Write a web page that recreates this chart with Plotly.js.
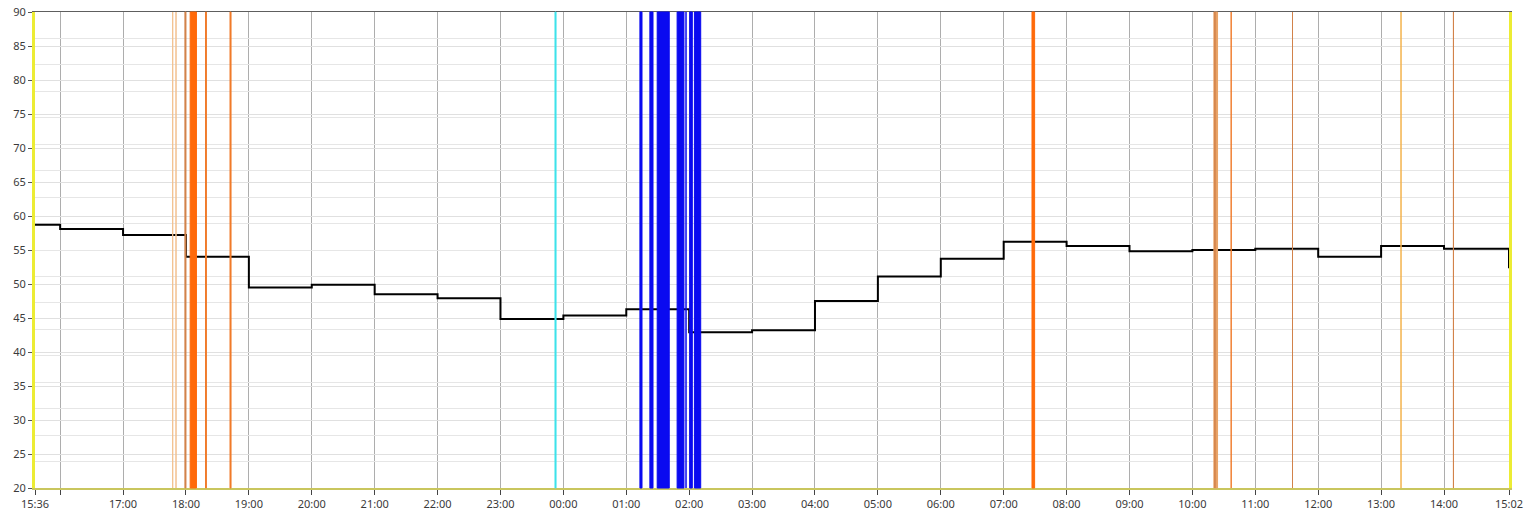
<!DOCTYPE html>
<html>
<head>
<meta charset="utf-8">
<script src="https://cdn.plot.ly/plotly-3.0.1.min.js"></script>
<style>
html,body{margin:0;padding:0;background:#ffffff;}
#chart{width:1527px;height:513px;}
</style>
</head>
<body>
<div id="chart"></div>
<script>
// ---------- data ----------
const DAY1 = '2024-03-11';
const DAY2 = '2024-03-12';

const stepTimes = [
  DAY1+' 15:36', DAY1+' 16:00', DAY1+' 17:00', DAY1+' 18:00', DAY1+' 19:00',
  DAY1+' 20:00', DAY1+' 21:00', DAY1+' 22:00', DAY1+' 23:00', DAY2+' 00:00',
  DAY2+' 01:00', DAY2+' 02:00', DAY2+' 03:00', DAY2+' 04:00', DAY2+' 05:00',
  DAY2+' 06:00', DAY2+' 07:00', DAY2+' 08:00', DAY2+' 09:00', DAY2+' 10:00',
  DAY2+' 11:00', DAY2+' 12:00', DAY2+' 13:00', DAY2+' 14:00', DAY2+' 15:02'
];
const stepValues = [
  58.7, 58.1, 57.2, 54.0, 49.5,
  49.9, 48.5, 47.9, 44.85, 45.35,
  46.3, 42.9, 43.2, 47.5, 51.1,
  53.7, 56.2, 55.6, 54.8, 55.0,
  55.2, 54.0, 55.6, 55.2, 52.3
];

const tickTimes = stepTimes;
const tickLabels = [
  '15:36', '', '17:00', '18:00', '19:00', '20:00', '21:00', '22:00', '23:00', '00:00',
  '01:00', '02:00', '03:00', '04:00', '05:00', '06:00', '07:00', '08:00', '09:00', '10:00',
  '11:00', '12:00', '13:00', '14:00', '15:02'
];

const yTickValues = [20, 25, 30, 35, 40, 45, 50, 55, 60, 65, 70, 75, 80, 85, 90];
const minorGridRange = [0, 18];

// events (vertical marks)
const eventStart = [
  DAY1+' 17:47:20', DAY1+' 17:50:30', DAY1+' 17:59:00', DAY1+' 18:04:00', DAY1+' 18:18:40',
  DAY1+' 18:42:00', DAY1+' 23:52:00',
  DAY2+' 01:13:00', DAY2+' 01:22:30', DAY2+' 01:29:30', DAY2+' 01:48:30', DAY2+' 01:57:00',
  DAY2+' 02:00:30', DAY2+' 02:05:00',
  DAY2+' 07:27:00', DAY2+' 10:20:30', DAY2+' 10:21:30', DAY2+' 10:37:00', DAY2+' 11:35:30',
  DAY2+' 13:19:00', DAY2+' 14:09:00'
];
const eventEnd = [
  DAY1+' 17:47:20', DAY1+' 17:50:30', DAY1+' 18:00:00', DAY1+' 18:10:00', DAY1+' 18:19:30',
  DAY1+' 18:43:00', DAY1+' 23:53:00',
  DAY2+' 01:15:00', DAY2+' 01:25:30', DAY2+' 01:41:00', DAY2+' 01:55:00', DAY2+' 01:57:00',
  DAY2+' 02:03:00', DAY2+' 02:11:00',
  DAY2+' 07:29:30', DAY2+' 10:24:00', DAY2+' 10:21:30', DAY2+' 10:37:00', DAY2+' 11:35:30',
  DAY2+' 13:19:00', DAY2+' 14:09:00'
];
const eventKind = [
  'note', 'note', 'minor', 'alarm', 'warning',
  'warning', 'info',
  'block', 'block', 'block', 'block', 'block',
  'block', 'block',
  'alarm', 'service', 'minor', 'warning', 'minor',
  'light', 'minor'
];

// ---------- styles ----------
const kindColor = {
  note: '#f2c08e',
  minor: '#d2824a',
  alarm: '#ff6a0a',
  warning: '#f07a2a',
  info: '#3fe2ea',
  block: '#0a0af0',
  service: '#e8a266',
  light: '#f3b24e'
};

const shapes = eventStart.map((s, i) => ({
  type: 'rect', xref: 'x', yref: 'paper',
  x0: s, x1: eventEnd[i], y0: 0, y1: 1,
  fillcolor: kindColor[eventKind[i]],
  line: {color: kindColor[eventKind[i]], width: 1},
  layer: 'above'
}));

const xRange = [stepTimes[0], stepTimes[stepTimes.length - 1]];

const traces = [
  {
    type: 'scatter', mode: 'lines',
    x: stepTimes, y: stepValues,
    line: {shape: 'hv', color: '#000000', width: 2},
    hoverinfo: 'skip', showlegend: false
  },
  { // anchors the minor grid axis
    type: 'scatter', mode: 'markers', xaxis: 'x', yaxis: 'y2',
    x: [stepTimes[0]], y: [minorGridRange[0]],
    marker: {opacity: 0}, hoverinfo: 'skip', showlegend: false
  },
  { // anchors the top frame axis
    type: 'scatter', mode: 'markers', xaxis: 'x2', yaxis: 'y',
    x: [stepTimes[0]], y: [yTickValues[0]],
    marker: {opacity: 0}, hoverinfo: 'skip', showlegend: false
  }
];

const tickFont = {family: 'Noto Sans, Open Sans, sans-serif', size: 11, color: '#3a3a3a'};

const layout = {
  width: 1527, height: 513,
  margin: {l: 35, r: 18, t: 12, b: 25, pad: 0},
  paper_bgcolor: '#ffffff', plot_bgcolor: '#ffffff',
  showlegend: false,
  xaxis: {
    type: 'date', range: xRange,
    tickmode: 'array', tickvals: tickTimes, ticktext: tickLabels,
    showgrid: true, gridcolor: '#adadad', gridwidth: 1,
    zeroline: false,
    showline: true, linecolor: '#c9c65e', linewidth: 2,
    ticks: 'outside', ticklen: 5, tickcolor: '#444444', tickwidth: 1,
    tickfont: tickFont, tickangle: 0
  },
  xaxis2: {
    type: 'date', range: xRange, overlaying: 'x', side: 'top', anchor: 'y',
    showgrid: false, zeroline: false, showticklabels: false, ticks: '',
    showline: true, linecolor: '#5e5e5e', linewidth: 1.5
  },
  yaxis: {
    range: [20, 90],
    tickmode: 'array', tickvals: yTickValues,
    showgrid: true, gridcolor: '#e0e0e0', gridwidth: 1,
    zeroline: false,
    showline: true, linecolor: '#ecec34', linewidth: 3, mirror: true,
    ticks: 'outside', ticklen: 4, tickcolor: '#555555', tickwidth: 1,
    tickfont: tickFont
  },
  yaxis2: {
    range: minorGridRange, overlaying: 'y', side: 'right', anchor: 'x',
    tickmode: 'linear', tick0: 0, dtick: 1,
    showgrid: true, gridcolor: '#e6e6e6', gridwidth: 1,
    zeroline: false, showline: false, showticklabels: false, ticks: ''
  },
  shapes: shapes
};

Plotly.newPlot('chart', traces, layout, {staticPlot: true, displayModeBar: false});
</script>
</body>
</html>
